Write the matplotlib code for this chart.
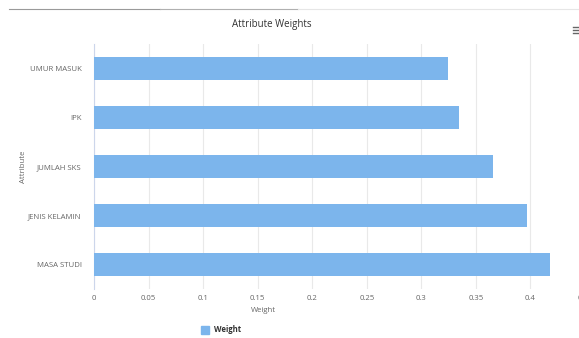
import matplotlib.pyplot as plt
from matplotlib.lines import Line2D
from matplotlib.patches import Rectangle

attributes = ["UMUR MASUK", "IPK", "JUMLAH SKS", "JENIS KELAMIN", "MASA STUDI"]
weights = [0.3245, 0.3346, 0.3654, 0.3966, 0.4183]
xticks = [0, 0.05, 0.1, 0.15, 0.2, 0.25, 0.3, 0.35, 0.4, 0.45]
xtick_labels = ["0", "0.05", "0.1", "0.15", "0.2", "0.25", "0.3", "0.35", "0.4", "0.45"]

plt.rcParams['font.family'] = ['Open Sans', 'DejaVu Sans']

W, H = 579, 338
fig = plt.figure(figsize=(W / 100, H / 100), dpi=100)
fig.patch.set_facecolor('white')

# plot area runs past the right edge (picture is cropped)
ax = fig.add_axes([94 / W, 1 - 289 / H, (585 - 94) / W, (289 - 44) / H])
ax.barh(range(len(attributes)), weights, height=0.48, color='#7cb5ec', zorder=3)
ax.set_ylim(len(attributes) - 0.5, -0.5)
ax.set_xlim(0, 0.45)

ax.set_yticks(range(len(attributes)))
ax.set_yticklabels(attributes, fontsize=5.6, color='#666666')
ax.set_xticks(xticks)
ax.set_xticklabels(xtick_labels, fontsize=5.6, color='#666666')
ax.tick_params(axis='y', length=0, pad=9)
ax.tick_params(axis='x', length=0, pad=4)

ax.grid(axis='x', color='#e9e9e9', linewidth=0.8, zorder=0)
for side in ['top', 'right', 'bottom']:
    ax.spines[side].set_visible(False)
ax.spines['left'].set_color('#ccd6eb')
ax.spines['left'].set_linewidth(0.8)

ax.set_xlabel("Weight", fontsize=5.6, color='#666666')
ax.xaxis.set_label_coords((263 - 94) / (585 - 94), -21 / 245)
ax.xaxis.label.set_va('center')
ax.set_ylabel("Attribute", fontsize=5.6, color='#666666')
ax.yaxis.set_label_coords((23 - 94) / (585 - 94), 0.5)
ax.yaxis.label.set_va('center')

fig.text(272 / W, 1 - 25 / H, "Attribute Weights", fontsize=7, color='#333333',
         ha='center', va='center')

# legend
fig.patches.append(Rectangle((201 / W, 1 - 334 / H), 8 / W, 8 / H,
                             transform=fig.transFigure, color='#7cb5ec'))
fig.text(214 / W, 1 - 330 / H, "Weight", fontsize=5.6, fontweight='bold',
         color='#333333', ha='left', va='center')

# menu icon
for dy in (27, 30, 33):
    fig.lines.append(Line2D([573 / W, 579 / W], [1 - dy / H, 1 - dy / H],
                            transform=fig.transFigure, color='#666666', linewidth=1.0))

# top divider lines
fig.lines.append(Line2D([9 / W, 160 / W], [1 - 9 / H, 1 - 9 / H],
                        transform=fig.transFigure, color='#9a9a9a', linewidth=0.8))
fig.lines.append(Line2D([160 / W, 298 / W], [1 - 9 / H, 1 - 9 / H],
                        transform=fig.transFigure, color='#b0b0b0', linewidth=0.8))
fig.lines.append(Line2D([298 / W, 579 / W], [1 - 9 / H, 1 - 9 / H],
                        transform=fig.transFigure, color='#e6e6e6', linewidth=0.8))

fig.savefig('out.png', dpi=100)
